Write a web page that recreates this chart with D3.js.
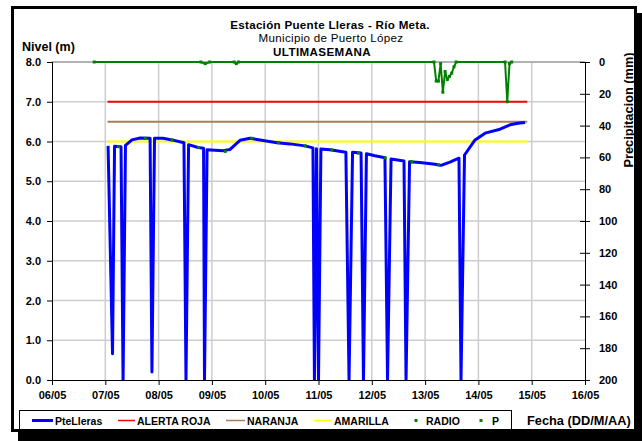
<!DOCTYPE html>
<html>
<head>
<meta charset="utf-8">
<script src="https://cdn.jsdelivr.net/npm/d3@7"></script>
<style>
  html, body { margin: 0; padding: 0; background: #fff; }
  svg { display: block; }
  text { font-family: "Liberation Sans", Arial, sans-serif; }
</style>
</head>
<body>
<svg id="chart" width="642" height="441"></svg>
<script>
// ---------------- DATA ----------------
const titleLines = ["Estación Puente Lleras - Río Meta.", "Municipio de Puerto López", "ULTIMASEMANA"];
const dateTicks = ["06/05","07/05","08/05","09/05","10/05","11/05","12/05","13/05","14/05","15/05","16/05"];
const levelTicks = [0,1,2,3,4,5,6,7,8];
const precipTicks = [0,20,40,60,80,100,120,140,160,180,200];

// PteLleras level (m)
const levelTimes = [
  "07/05 01:15","07/05 03:15","07/05 04:10","07/05 07:05","07/05 08:00","07/05 09:05",
  "07/05 12:00","07/05 15:40","07/05 20:10","07/05 21:00","07/05 22:10",
  "08/05 02:00","08/05 06:00","08/05 11:25","08/05 12:20","08/05 13:30","08/05 17:45","08/05 20:15","08/05 20:40","08/05 21:50",
  "09/05 05:00","09/05 08:10","09/05 12:40","09/05 17:10","09/05 21:40",
  "10/05 05:20","10/05 11:10","10/05 17:55","10/05 21:30","10/05 22:10","10/05 23:05",
  "11/05 00:00","11/05 01:05","11/05 05:10","11/05 12:20","11/05 13:45","11/05 15:20","11/05 19:10","11/05 20:15","11/05 21:35",
  "12/05 01:25","12/05 05:55","12/05 07:05","12/05 08:40","12/05 14:30","12/05 15:25","12/05 17:00","12/05 21:40",
  "13/05 04:30","13/05 07:10","13/05 11:10","13/05 15:15","13/05 16:10","13/05 17:45","13/05 22:30",
  "14/05 03:00","14/05 09:45","14/05 14:15","14/05 17:50","14/05 21:00"
];
const levelValues = [
  5.89,0.66,5.88,5.87,0.0,5.90,
  6.04,6.09,6.08,0.20,6.08,
  6.08,6.04,5.97,0.0,5.92,5.85,5.83,0.0,5.79,
  5.77,5.80,6.03,6.08,6.04,
  5.97,5.94,5.89,5.84,0.0,5.82,
  0.0,5.81,5.79,5.73,0.0,5.73,5.71,0.0,5.69,
  5.64,5.59,0.0,5.56,5.51,0.0,5.49,5.47,
  5.43,5.40,5.48,5.58,0.0,5.66,6.04,
  6.21,6.31,6.42,6.46,6.48
];

// RADIO readings (m)
const radioTimes = ["07/05 06:00","07/05 18:00","08/05 06:00","08/05 18:00","09/05 06:00","09/05 18:00",
  "10/05 06:00","10/05 18:00","11/05 06:00","11/05 18:00","12/05 06:00","12/05 18:00","13/05 06:00"];
const radioValues = [5.87,6.08,6.04,5.85,5.75,6.08,5.97,5.89,5.79,5.71,5.59,5.49,5.41];

// P precipitation (mm)
const precipTimes = ["06/05 19:00","08/05 19:00","08/05 21:00","08/05 23:00","09/05 10:00","09/05 11:00","09/05 12:00",
  "13/05 04:00","13/05 05:00","13/05 06:00","13/05 07:00","13/05 08:00","13/05 09:00","13/05 10:00",
  "13/05 11:00","13/05 12:00","13/05 13:00","13/05 14:00",
  "14/05 12:00","14/05 13:00","14/05 14:00","14/05 15:00"];
const precipValues = [0,0,1,0,0,1,0,
  0,12,12,1,19,6,11,
  9,7,3,0,
  0,25,1,0];

// Alert thresholds (m)
const alertTimes = ["07/05 01:00","14/05 22:00"];
const alertRoja = 7.0, alertNaranja = 6.5, alertAmarilla = 6.0;

const legendItems = [
  {name:"PteLleras", type:"line", color:"#0000FF"},
  {name:"ALERTA ROJA", type:"line", color:"#FF0000"},
  {name:"NARANJA", type:"line", color:"#A57F5C"},
  {name:"AMARILLA", type:"line", color:"#FFFF00"},
  {name:"RADIO", type:"dot", color:"#008000"},
  {name:"P", type:"dot", color:"#008000"}
];

// ---------------- CHART ----------------
const svg = d3.select("#chart");
const parse = d3.timeParse("%d/%m %H:%M");
const L = 52, R = 585, T = 62, B = 380;

const x = d3.scaleTime().domain([parse("06/05 00:00"), parse("16/05 00:00")]).range([L, R]);
const y = d3.scaleLinear().domain([0, 8]).range([B, T]);
const yP = d3.scaleLinear().domain([0, 200]).range([T, B]);

// Frame with shadow
svg.append("rect").attr("x", 18).attr("y", 13).attr("width", 624).attr("height", 428).attr("fill", "#000");
svg.append("rect").attr("x", 12.5).attr("y", 7.5).attr("width", 623).attr("height", 423)
  .attr("fill", "#fff").attr("stroke", "#000").attr("stroke-width", 3);

// Titles
const tg = svg.append("g").attr("text-anchor", "middle");
tg.append("text").attr("x", 330).attr("y", 28.5).attr("font-size", 11.6).attr("font-weight", "bold")
  .attr("letter-spacing", 0.3).text(titleLines[0]);
tg.append("text").attr("x", 331).attr("y", 42).attr("font-size", 11.6).attr("letter-spacing", 0.3).text(titleLines[1]);
tg.append("text").attr("x", 322).attr("y", 55.5).attr("font-size", 11.6).attr("font-weight", "bold")
  .attr("letter-spacing", 0.4).text(titleLines[2]);

// Gridlines
const dayTickVals = dateTicks.map(s => parse(s + " 00:00"));
svg.append("g").selectAll("line").data(dayTickVals.slice(1, -1)).join("line")
  .attr("x1", d => x(d)).attr("x2", d => x(d)).attr("y1", T).attr("y2", B)
  .attr("stroke", "#CDCDCD").attr("stroke-width", 1.5);
svg.append("g").selectAll("line").data(levelTicks.slice(1)).join("line")
  .attr("x1", L).attr("x2", R).attr("y1", d => y(d)).attr("y2", d => y(d))
  .attr("stroke", d => d === 8 ? "#999" : "#CDCDCD").attr("stroke-width", 1.5);

// Axes
const fmt = d3.timeFormat("%d/%m");
const xAxis = svg.append("g").attr("transform", `translate(0,${B})`)
  .call(d3.axisBottom(x).tickValues(dayTickVals).tickFormat(fmt).tickSize(5).tickPadding(6));
const yAxis = svg.append("g").attr("transform", `translate(${L},0)`)
  .call(d3.axisLeft(y).tickValues(levelTicks).tickFormat(d3.format(".1f")).tickSize(5).tickPadding(6));
const yAxisR = svg.append("g").attr("transform", `translate(${R},0)`)
  .call(d3.axisRight(yP).tickValues(precipTicks).tickSize(5).tickPadding(9));
yAxisR.selectAll(".tick line").attr("x1", -5);
[xAxis, yAxis, yAxisR].forEach(g => {
  g.select(".domain").attr("stroke", "#000").attr("stroke-width", 1);
  g.selectAll(".tick line").attr("stroke", "#000");
  g.selectAll("text").attr("font-size", 11).attr("font-weight", "bold")
    .attr("font-family", "Liberation Sans, Arial, sans-serif").attr("fill", "#000");
});
xAxis.select(".domain").attr("d", `M${L},0.5H${R}`);
yAxis.select(".domain").attr("d", `M0.5,${B}V${T}`);
yAxisR.select(".domain").attr("d", `M0.5,${B}V${T}`);

// Axis titles
svg.append("text").attr("x", 22).attr("y", 51).attr("font-size", 12.5).attr("font-weight", "bold").text("Nivel (m)");
svg.append("text").attr("transform", "translate(633,110) rotate(-90)").attr("text-anchor", "middle")
  .attr("font-size", 12.8).attr("font-weight", "bold").text("Precipitacion (mm)");
svg.append("text").attr("x", 527).attr("y", 425).attr("font-size", 12.8).attr("font-weight", "bold").text("Fecha (DD/M/AA)");

// Threshold lines
const thr = [[alertRoja, "#FF0000"], [alertNaranja, "#A57F5C"], [alertAmarilla, "#FFFF00"]];
thr.forEach(([v, c]) => {
  const pts = alertTimes.map(t => [parse(t), v]);
  svg.append("path").datum(pts)
    .attr("d", d3.line().x(d => x(d[0])).y(d => y(d[1])))
    .attr("stroke", c).attr("stroke-width", 2).attr("fill", "none");
});

// Precipitation series
const pData = precipTimes.map((t, i) => ({t: parse(t), v: precipValues[i]}));
svg.append("clipPath").attr("id", "pclip").append("rect")
  .attr("x", L).attr("y", T - 2).attr("width", R - L).attr("height", B - T + 2);
svg.append("path").datum(pData)
  .attr("d", d3.line().x(d => x(d.t)).y(d => yP(d.v)))
  .attr("stroke", "#008000").attr("stroke-width", 2).attr("fill", "none");
svg.append("g").selectAll("rect").data(pData).join("rect")
  .attr("x", d => x(d.t) - 1.5).attr("y", d => yP(d.v) - 1.5).attr("width", 3).attr("height", 3)
  .attr("fill", "#008000");

// Level series
const lData = levelTimes.map((t, i) => ({t: parse(t), v: levelValues[i]}));
svg.append("g").attr("clip-path", "url(#pclip)").append("path").datum(lData)
  .attr("d", d3.line().x(d => x(d.t)).y(d => y(d.v)))
  .attr("stroke", "#0000FF").attr("stroke-width", 3).attr("stroke-linejoin", "round").attr("fill", "none");

// Radio points
const rData = radioTimes.map((t, i) => ({t: parse(t), v: radioValues[i]}));
svg.append("g").selectAll("rect").data(rData).join("rect")
  .attr("x", d => x(d.t) - 1.5).attr("y", d => y(d.v) - 1.5).attr("width", 3).attr("height", 3)
  .attr("fill", "#008000");

// Legend
svg.append("rect").attr("x", 19.5).attr("y", 410.5).attr("width", 492).attr("height", 19)
  .attr("fill", "#fff").attr("stroke", "#000").attr("stroke-width", 1);
const legPos = [[32, 53, 55], [118, 135, 137], [226, 245, 247], [314, 332, 334], [416, 416, 426], [481, 481, 492]];
legendItems.forEach((it, i) => {
  const [x1, x2, tx] = legPos[i];
  if (it.type === "line") {
    svg.append("line").attr("x1", x1).attr("x2", x2).attr("y1", 420.5).attr("y2", 420.5)
      .attr("stroke", it.color).attr("stroke-width", it.name === "PteLleras" ? 3 : 1.5);
  } else {
    svg.append("rect").attr("x", x1 - 1.5).attr("y", 419).attr("width", 3).attr("height", 3).attr("fill", it.color);
  }
  svg.append("text").attr("x", tx).attr("y", 424.5).attr("font-size", 10.5).attr("font-weight", "bold").text(it.name);
});
</script>
</body>
</html>
